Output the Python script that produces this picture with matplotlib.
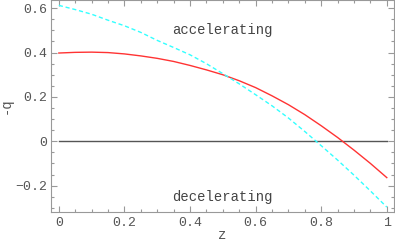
import matplotlib
matplotlib.use("Agg")
import matplotlib.pyplot as plt
from matplotlib.ticker import MultipleLocator, FuncFormatter

z = [0.0, 0.05, 0.1, 0.15, 0.2, 0.25, 0.3, 0.35, 0.4, 0.45, 0.5,
     0.55, 0.6, 0.65, 0.7, 0.75, 0.8, 0.85, 0.9, 0.95, 1.0]
q_red = [0.398, 0.401, 0.402, 0.400, 0.394, 0.385, 0.374, 0.360, 0.342, 0.322, 0.300,
         0.273, 0.242, 0.205, 0.165, 0.120, 0.070, 0.017, -0.040, -0.100, -0.164]
q_cyan = [0.613, 0.594, 0.573, 0.546, 0.521, 0.491, 0.455, 0.423, 0.390, 0.350, 0.305,
          0.259, 0.210, 0.160, 0.105, 0.044, -0.020, -0.085, -0.153, -0.224, -0.297]
zero_z = [0.0, 1.0]
zero_q = [0.0, 0.0]

font = "Liberation Mono"
gray = "#555555"

fig = plt.figure(figsize=(3.95, 2.42), dpi=100)
ax = fig.add_axes([0.129, 0.125, 0.8685, 0.873])

ax.plot(zero_z, zero_q, color="#555555", lw=1.0)
ax.plot(z, q_red, color="#ff3333", lw=1.0)
ax.plot(z, q_cyan, color="#33ffff", lw=1.0, dashes=(3, 2))

ax.set_xlim(-0.024, 1.022)
ax.set_ylim(-0.318, 0.635)

ax.xaxis.set_major_locator(MultipleLocator(0.2))
ax.xaxis.set_minor_locator(MultipleLocator(0.05))
ax.yaxis.set_major_locator(MultipleLocator(0.2))
ax.yaxis.set_minor_locator(MultipleLocator(0.05))

def fmt(v, pos):
    if abs(v) < 1e-9:
        return "0"
    if abs(v - 1) < 1e-9:
        return "1"
    s = "%.1f" % v
    return s.replace("-", "\u2212")

ax.xaxis.set_major_formatter(FuncFormatter(fmt))
ax.yaxis.set_major_formatter(FuncFormatter(fmt))

ax.tick_params(which="both", direction="in", top=True, right=True, color="#999999", width=0.8)
ax.tick_params(which="major", length=4, labelsize=9.5, labelcolor=gray)
ax.tick_params(which="minor", length=2)
ax.tick_params(axis="x", which="major", pad=4)
ax.tick_params(axis="y", which="major", pad=3)
for lab in ax.get_xticklabels() + ax.get_yticklabels():
    lab.set_family(font)

for sp in ax.spines.values():
    sp.set_color("#999999")
    sp.set_linewidth(0.8)

ax.set_xlabel("z", family=font, fontsize=10, color=gray, va="center")
ax.xaxis.set_label_coords(0.5, -0.108)
ax.set_ylabel("-q", family=font, fontsize=10, color=gray, va="center")
ax.yaxis.set_label_coords(-0.131, 0.5)

ax.text(0.5, 0.5, "accelerating", family=font, fontsize=10, color="#444444",
        ha="center", va="center")
ax.text(0.5, -0.252, "decelerating", family=font, fontsize=10, color="#444444",
        ha="center", va="center")

fig.savefig("out.png", dpi=100)
